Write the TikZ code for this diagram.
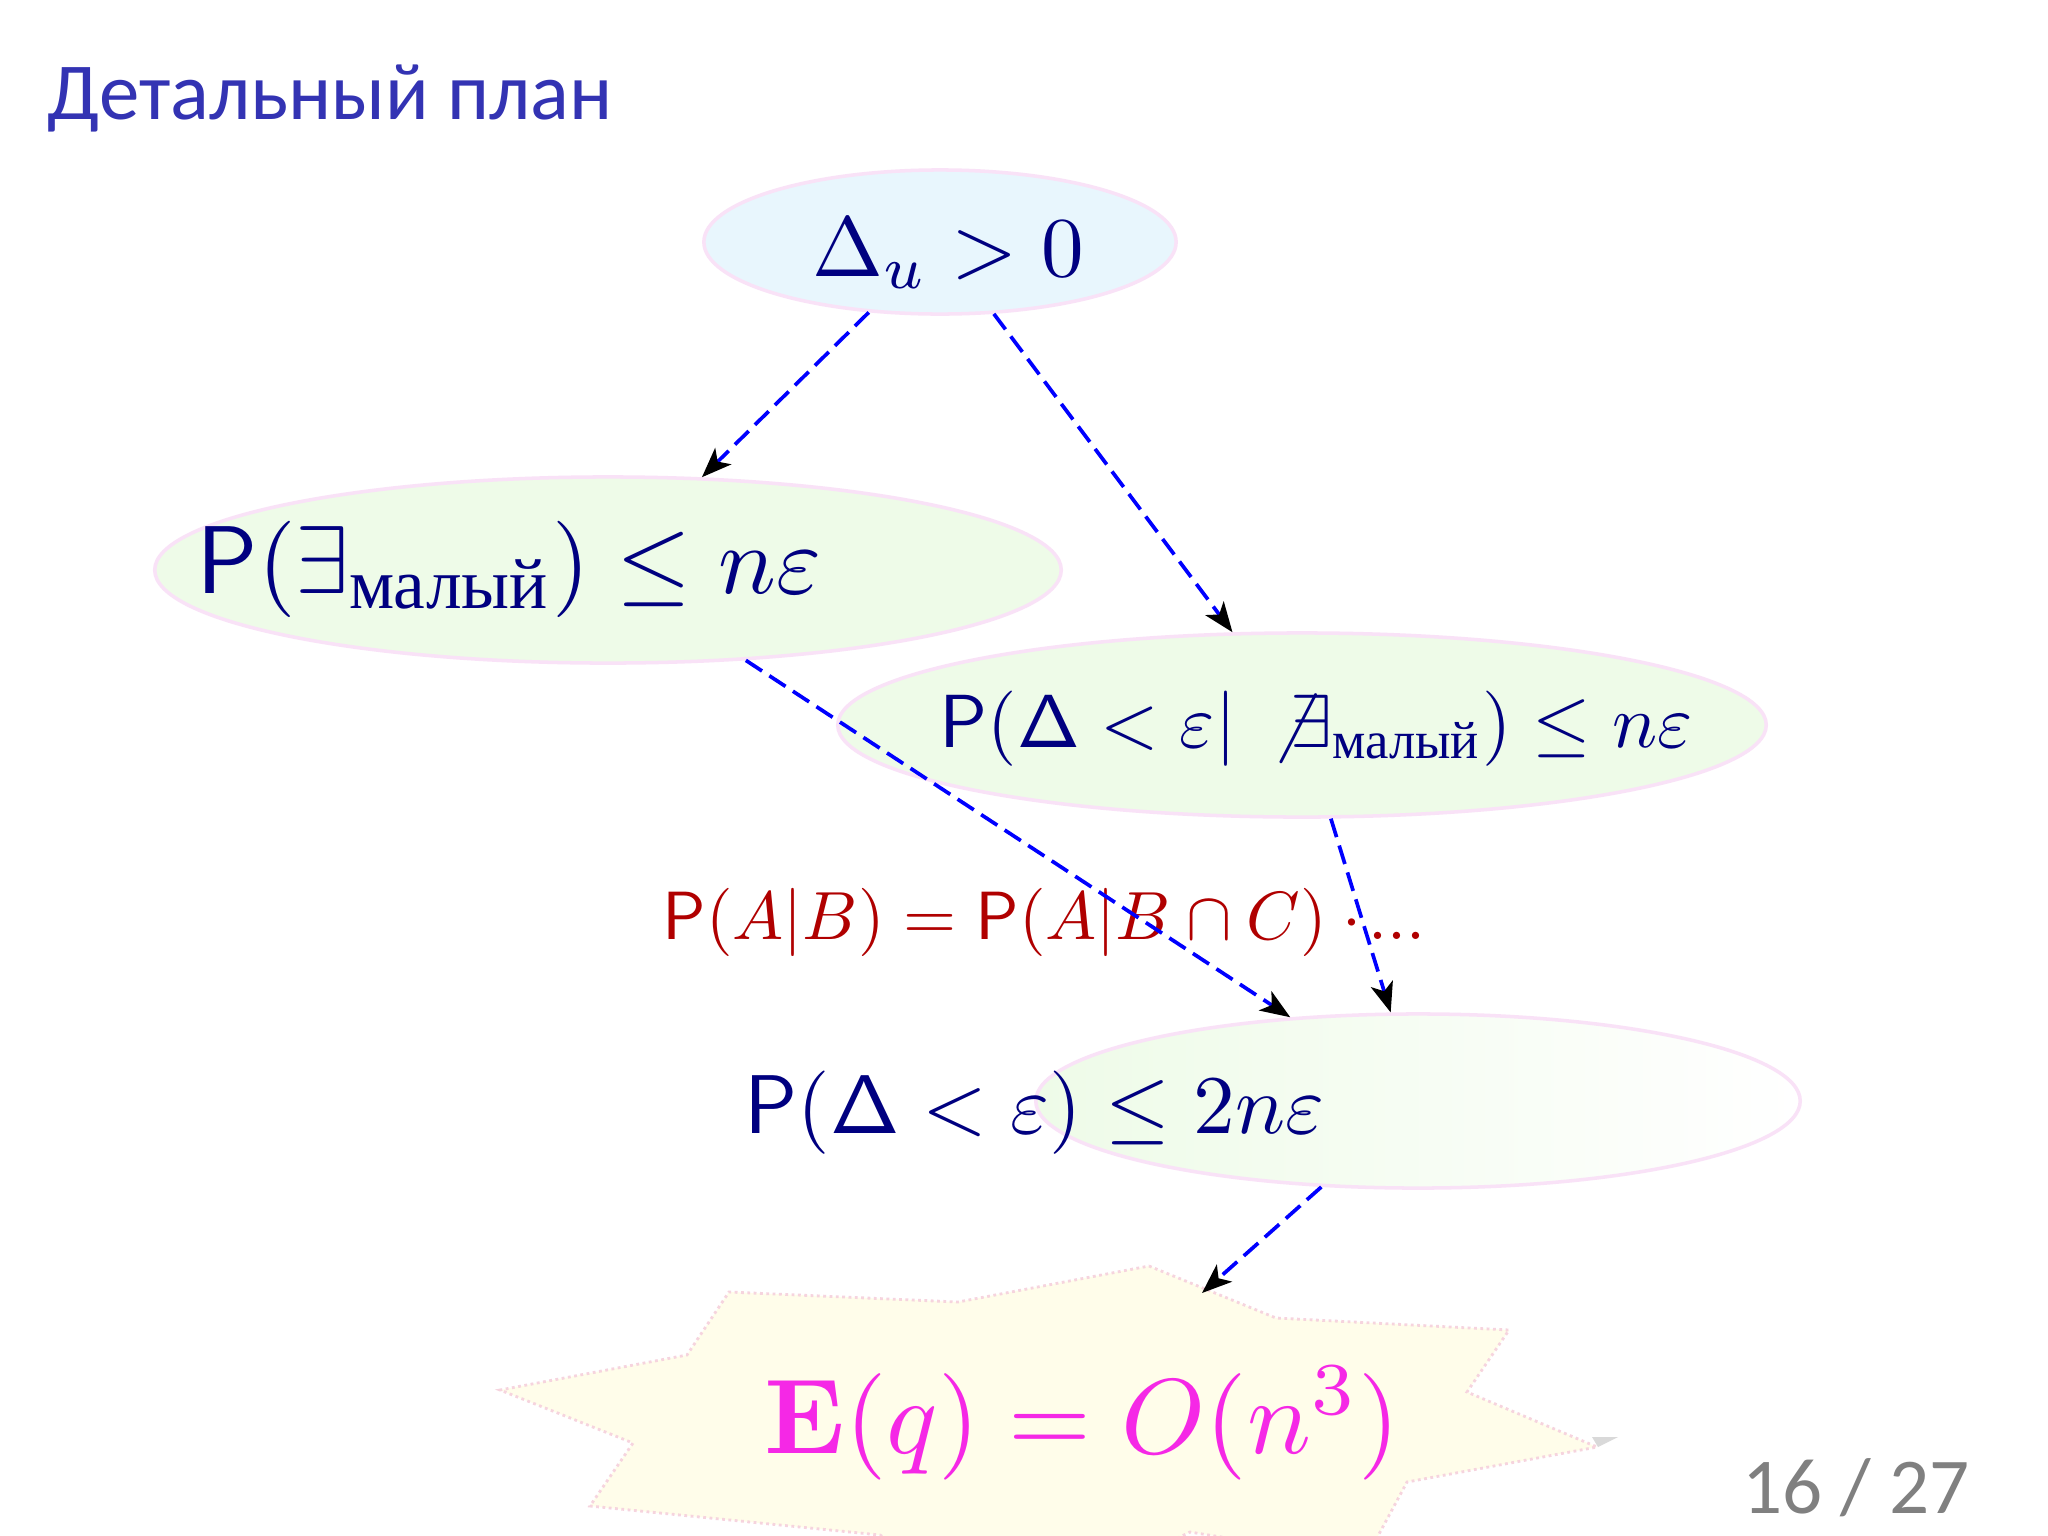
\documentclass[tikz,border=0pt]{standalone}
\usepackage[no-math]{fontspec}
\newfontfamily\titlefont{Carlito}
\newfontfamily\cyrfont{Liberation Serif}
\usetikzlibrary{arrows.meta,shapes.geometric}
\definecolor{titleblue}{RGB}{51,51,179}
\definecolor{fnavy}{RGB}{0,0,128}
\definecolor{fred}{RGB}{176,0,0}
\definecolor{fmag}{RGB}{245,40,230}
\definecolor{topfill}{RGB}{232,246,253}
\definecolor{greenfill}{RGB}{238,251,232}
\definecolor{pinkline}{RGB}{249,226,247}
\definecolor{burstfill}{RGB}{255,253,234}
\definecolor{burstline}{RGB}{246,212,222}
\definecolor{pagegray}{RGB}{128,128,128}
\newcommand{\malyj}[1]{\mbox{\cyrfont\fontsize{#1}{9}\selectfont малый}}
\tikzset{
  ellbox/.style={ellipse, draw=pinkline, line width=1pt, inner sep=0pt},
  arr/.style={blue, line width=1.05pt, dash pattern=on 5.5pt off 2.5pt,
    -{Stealth[black, length=8.5pt, width=6.5pt, inset=2.2pt]}},
  formula/.style={anchor=base west, inner sep=0pt, text=fnavy},
  burst/.style={fill=burstfill, draw=burstline, line width=0.8pt, densely dotted}
}
\begin{document}
\begin{tikzpicture}[x=0.01cm, y=-0.01cm]
\useasboundingbox (0,0) rectangle (2048,1536);
\fill[white] (0,0) rectangle (2048,1536);
\clip (0,0) rectangle (2048,1536);

% title
\node[anchor=base west, inner sep=0pt, text=titleblue,
  font=\titlefont\fontsize{23}{27}\selectfont] (title) at (47,119) {Детальный план};

% ellipses
\node[ellbox, fill=topfill, minimum width=4.72cm, minimum height=1.44cm] (top) at (940,242) {};
\node[ellbox, fill=greenfill, minimum width=9.06cm, minimum height=1.86cm] (left) at (608,570) {};
\node[ellbox, fill=greenfill, minimum width=9.28cm, minimum height=1.84cm] (right) at (1302,725) {};
\node[ellbox, left color=greenfill, right color=white, minimum width=7.64cm, minimum height=1.74cm] (bottom) at (1418,1101) {};

% starburst
\path[burst] (1149,1266) -- (1276,1318) -- (1509,1330) -- (1467,1392) -- (1597,1447)
  -- (1407,1482) -- (1365,1560) -- (1190,1532) -- (1010,1620) -- (880,1535)
  -- (590,1506) -- (633,1443) -- (500,1390) -- (687,1355) -- (729,1292)
  -- (958,1302) -- cycle;
\fill[gray!30] (1592,1437) -- (1618,1437) -- (1598,1447) -- cycle;
\coordinate (burstin) at (1202,1293);

% texts
\node[formula] (ttop) at (812,276) {\scalebox{2.42}{$\Delta_u > 0$}};
\node[formula] (tleft) at (196,593)
  {\scalebox{2.74}{$\mathsf{P}(\exists_{\malyj{7.4}}) \leq n\varepsilon$}};
\node[formula] (tright) at (939,747)
  {\scalebox{2.14}{$\mathsf{P}(\mathsf{\Delta} < \varepsilon|\, \not\exists_{\malyj{7.0}}) \leq n\varepsilon$}};
\node[formula, text=fred] (tred) at (662,939)
  {\scalebox{1.94}{$\mathsf{P}(A|B) = \mathsf{P}(A|B\cap C)\cdot\mkern-2mu ...$}};
\node[formula] (tbottom) at (744,1133)
  {\scalebox{2.37}{$\mathsf{P}(\mathsf{\Delta} < \varepsilon) \leq 2n\varepsilon$}};
\node[formula, text=fmag] (tburst) at (764,1453)
  {\scalebox{3.03}{$\mathbf{E}(q) = O(n^3)$}};

% connectors
\draw[arr] (top) -- (left);
\draw[arr] (top) -- (right);
\draw[arr] (left) -- (bottom);
\draw[arr] (right) -- (bottom);
\draw[arr] (bottom) -- (burstin);

% page number
\node[anchor=base west, inner sep=0pt, text=pagegray,
  font=\titlefont\fontsize{22.5}{26}\selectfont] (page) at (1742,1513) {16 / 27};
\end{tikzpicture}
\end{document}
